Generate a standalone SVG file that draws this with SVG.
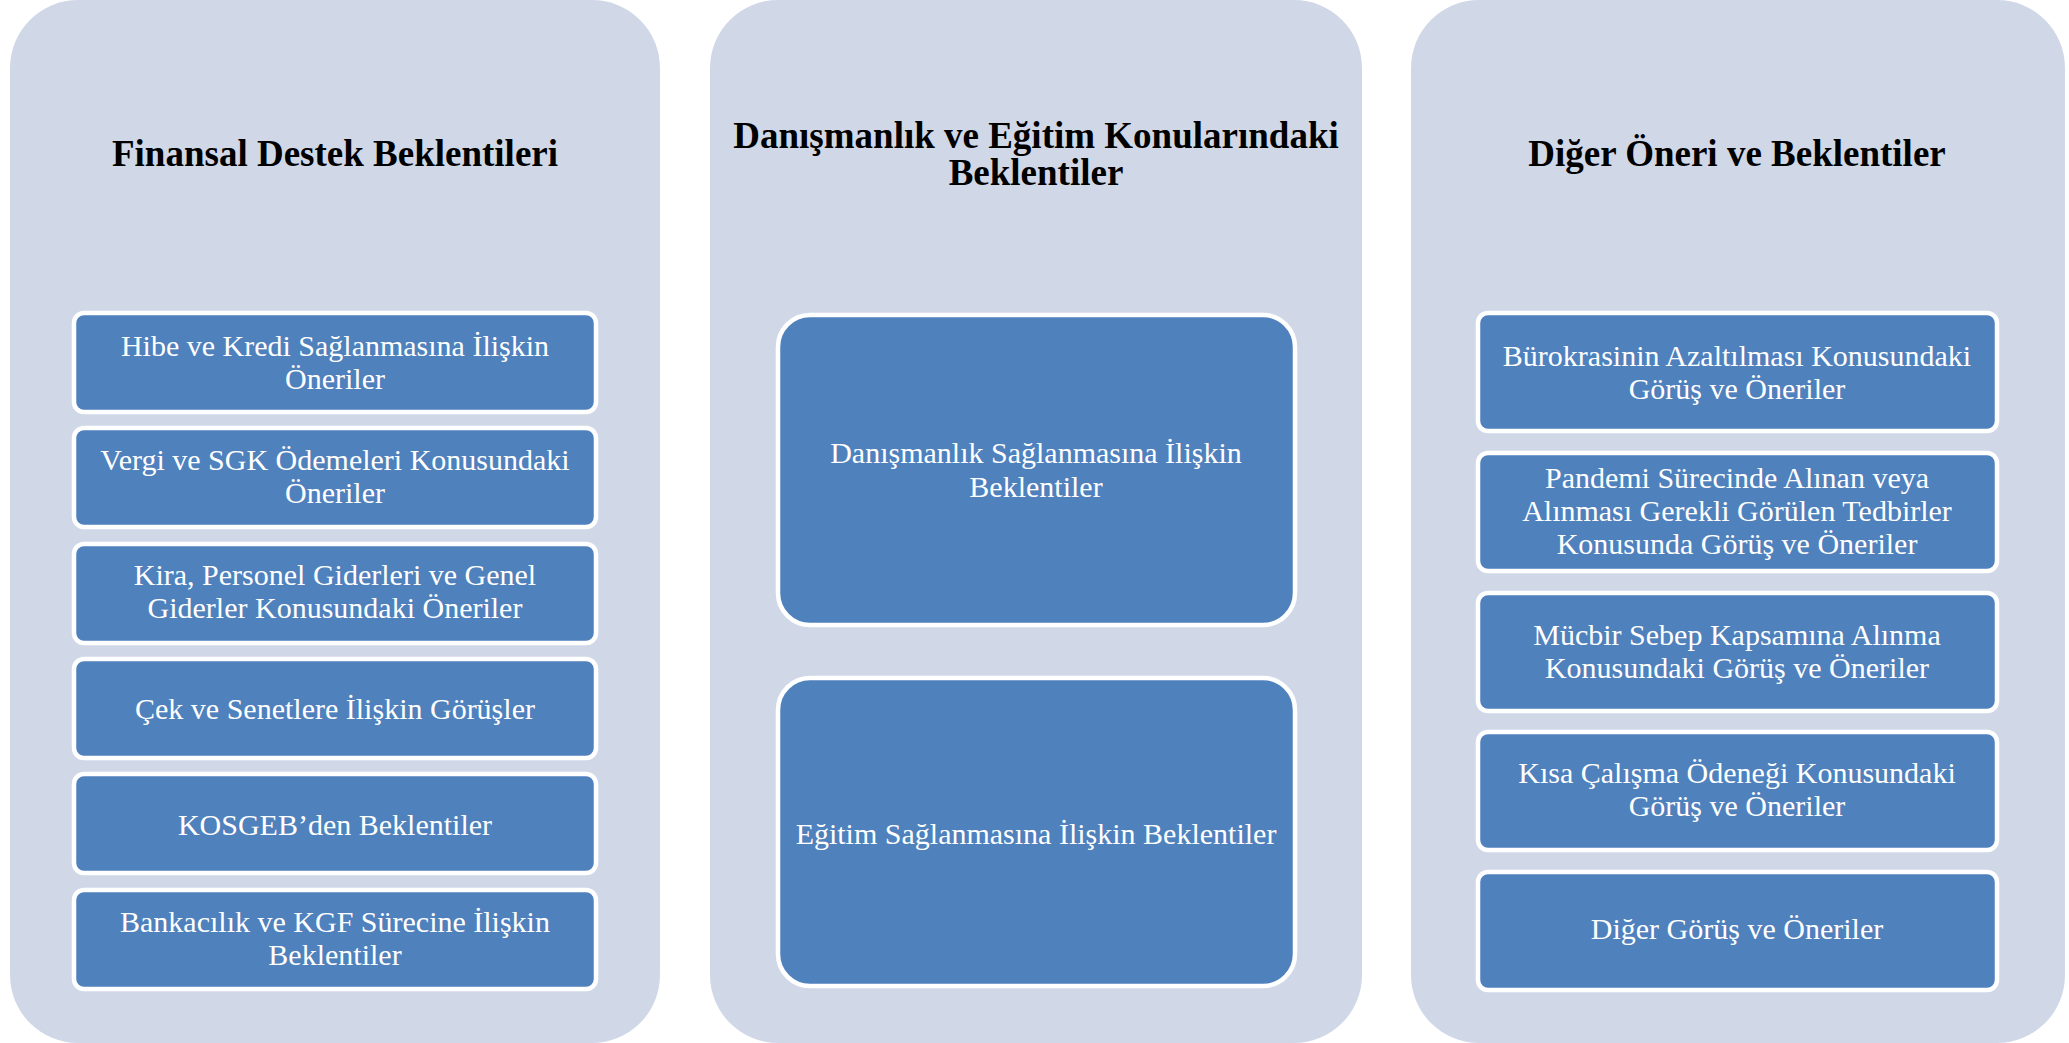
<svg xmlns="http://www.w3.org/2000/svg" width="2069" height="1043" viewBox="0 0 2069 1043">
<style>
.panel{fill:#D0D8E8;}
.box{fill:#4F81BD;stroke:#FFFFFF;stroke-width:4.5;}
.title{font-family:"Liberation Serif",serif;font-weight:bold;font-size:37px;fill:#000000;text-anchor:middle;}
.lbl{font-family:"Liberation Serif",serif;font-size:30px;fill:#FFFFFF;text-anchor:middle;}
</style>
<rect width="2069" height="1043" fill="#FFFFFF"/>
<g id="col1">
<rect class="panel" x="10" y="0" width="650" height="1043" rx="68"/>
<text class="title" x="335" y="166">Finansal Destek Beklentileri</text>
</g>
<g id="col2">
<rect class="panel" x="710" y="0" width="652" height="1043" rx="68"/>
<text class="title" x="1036" y="148">Danışmanlık ve Eğitim Konularındaki</text>
<text class="title" x="1036" y="185">Beklentiler</text>
</g>
<g id="col3">
<rect class="panel" x="1411" y="0" width="654" height="1043" rx="68"/>
<text class="title" x="1737" y="166">Diğer Öneri ve Beklentiler</text>
</g>
<g id="connectors"></g>
<g id="n1-1"><rect class="box" x="74" y="313" width="522" height="99" rx="10"/>
<text class="lbl" x="335" y="356">Hibe ve Kredi Sağlanmasına İlişkin</text><text class="lbl" x="335" y="389">Öneriler</text></g>
<g id="n1-2"><rect class="box" x="74" y="428" width="522" height="99" rx="10"/>
<text class="lbl" x="335" y="470">Vergi ve SGK Ödemeleri Konusundaki</text><text class="lbl" x="335" y="503">Öneriler</text></g>
<g id="n1-3"><rect class="box" x="74" y="544" width="522" height="99" rx="10"/>
<text class="lbl" x="335" y="585">Kira, Personel Giderleri ve Genel</text><text class="lbl" x="335" y="618">Giderler Konusundaki Öneriler</text></g>
<g id="n1-4"><rect class="box" x="74" y="659" width="522" height="99" rx="10"/>
<text class="lbl" x="335" y="719">Çek ve Senetlere İlişkin Görüşler</text></g>
<g id="n1-5"><rect class="box" x="74" y="774" width="522" height="99" rx="10"/>
<text class="lbl" x="335" y="835">KOSGEB’den Beklentiler</text></g>
<g id="n1-6"><rect class="box" x="74" y="890" width="522" height="99" rx="10"/>
<text class="lbl" x="335" y="932">Bankacılık ve KGF Sürecine İlişkin</text><text class="lbl" x="335" y="965">Beklentiler</text></g>
<g id="n2-1"><rect class="box" x="778" y="315" width="517" height="310" rx="32"/>
<text class="lbl" x="1036" y="463">Danışmanlık Sağlanmasına İlişkin</text><text class="lbl" x="1036" y="497">Beklentiler</text></g>
<g id="n2-2"><rect class="box" x="778" y="678" width="517" height="308" rx="32"/>
<text class="lbl" x="1036" y="844">Eğitim Sağlanmasına İlişkin Beklentiler</text></g>
<g id="n3-1"><rect class="box" x="1478" y="313" width="519" height="118" rx="10"/>
<text class="lbl" x="1737" y="366">Bürokrasinin Azaltılması Konusundaki</text><text class="lbl" x="1737" y="399">Görüş ve Öneriler</text></g>
<g id="n3-2"><rect class="box" x="1478" y="453" width="519" height="118" rx="10"/>
<text class="lbl" x="1737" y="488">Pandemi Sürecinde Alınan veya</text><text class="lbl" x="1737" y="521">Alınması Gerekli Görülen Tedbirler</text><text class="lbl" x="1737" y="554">Konusunda Görüş ve Öneriler</text></g>
<g id="n3-3"><rect class="box" x="1478" y="593" width="519" height="118" rx="10"/>
<text class="lbl" x="1737" y="645">Mücbir Sebep Kapsamına Alınma</text><text class="lbl" x="1737" y="678">Konusundaki Görüş ve Öneriler</text></g>
<g id="n3-4"><rect class="box" x="1478" y="732" width="519" height="118" rx="10"/>
<text class="lbl" x="1737" y="783">Kısa Çalışma Ödeneği Konusundaki</text><text class="lbl" x="1737" y="816">Görüş ve Öneriler</text></g>
<g id="n3-5"><rect class="box" x="1478" y="872" width="519" height="118" rx="10"/>
<text class="lbl" x="1737" y="939">Diğer Görüş ve Öneriler</text></g>
</svg>
